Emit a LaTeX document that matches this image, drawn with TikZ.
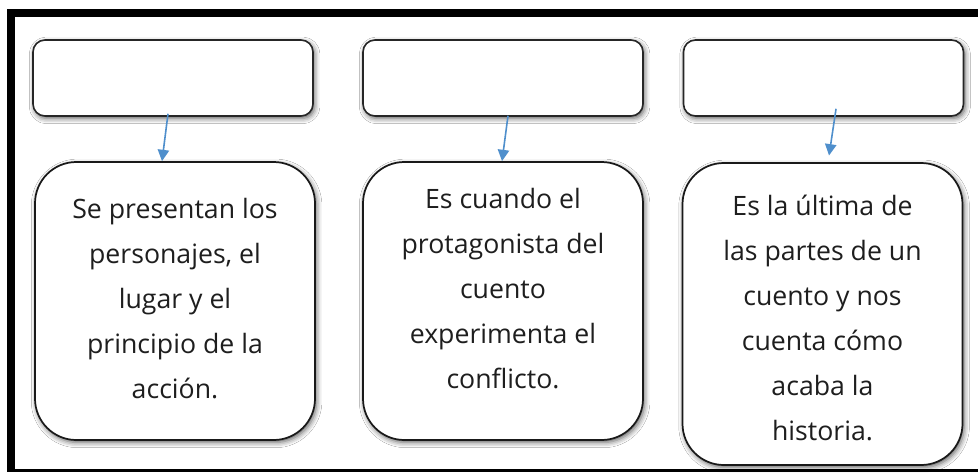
\documentclass[tikz,border=0pt]{standalone}
\usepackage{fontspec}
\setmainfont{Open Sans}
\usetikzlibrary{arrows.meta,shadows.blur}
\definecolor{linkblue}{HTML}{4F8FCC}
\definecolor{inkgray}{HTML}{1E1E1E}
\begin{document}
\begin{tikzpicture}[x=0.75pt,y=-0.75pt,
  softshadow/.style={blur shadow={shadow xshift=1.2pt,shadow yshift=-1.8pt,shadow blur radius=4pt,shadow opacity=65}},
  topbox/.style={draw=black!85,line width=1.2pt,rounded corners=9pt,fill=white,
    minimum width=210pt,minimum height=57pt,inner sep=0pt,softshadow},
  bigbox/.style={draw=black!90,line width=1.3pt,rounded corners=31pt,fill=white,
    minimum width=210pt,inner sep=0pt,softshadow},
  boxtext/.style={align=center,inner sep=0pt,text=inkgray,
    font=\fontsize{20}{33.75}\selectfont},
  link/.style={draw=linkblue,line width=1.2pt,-{Triangle[width=8.5pt,length=8.5pt]}}]
\useasboundingbox (0,0) rectangle (978,472);
\fill[white] (0,0) rectangle (978,472);
% frame
\fill[black] (7,9) rectangle (978,17);
\fill[black] (7,9) rectangle (15,472);
\fill[black] (7,468.5) rectangle (978,472);
% top boxes
\node[topbox] (t1) at (173,78) {};
\node[topbox] (t2) at (503,78) {};
\node[topbox] (t3) at (823.5,78) {};
% big boxes
\node[bigbox,minimum height=208.5pt] (b1) at (175,301) {};
\node[bigbox,minimum height=208.5pt] (b2) at (503,301) {};
\node[bigbox,minimum height=226.5pt] (b3) at (822.5,314) {};
% texts
\node[boxtext] (x1) at (175,299) {Se presentan los\\personajes, el\\lugar y el\\principio de la\\acción.};
\node[boxtext] (x2) at (503,289) {Es cuando el\\protagonista del\\cuento\\experimenta el\\conflicto.};
\node[boxtext] (x3) at (822.5,318) {Es la última de\\las partes de un\\cuento y nos\\cuenta cómo\\acaba la\\historia.};
% connectors
\draw[link] ([xshift=-3.75pt,yshift=2.25pt]t1.south) -- ([xshift=-9.75pt]b1.north);
\draw[link] ([xshift=3.75pt,yshift=0.75pt]t2.south) -- ([xshift=-0.75pt]b2.north);
\draw[link] ([xshift=9.4pt,yshift=6pt]t3.south) -- ([xshift=4.9pt,yshift=5pt]b3.north);
\end{tikzpicture}
\end{document}
